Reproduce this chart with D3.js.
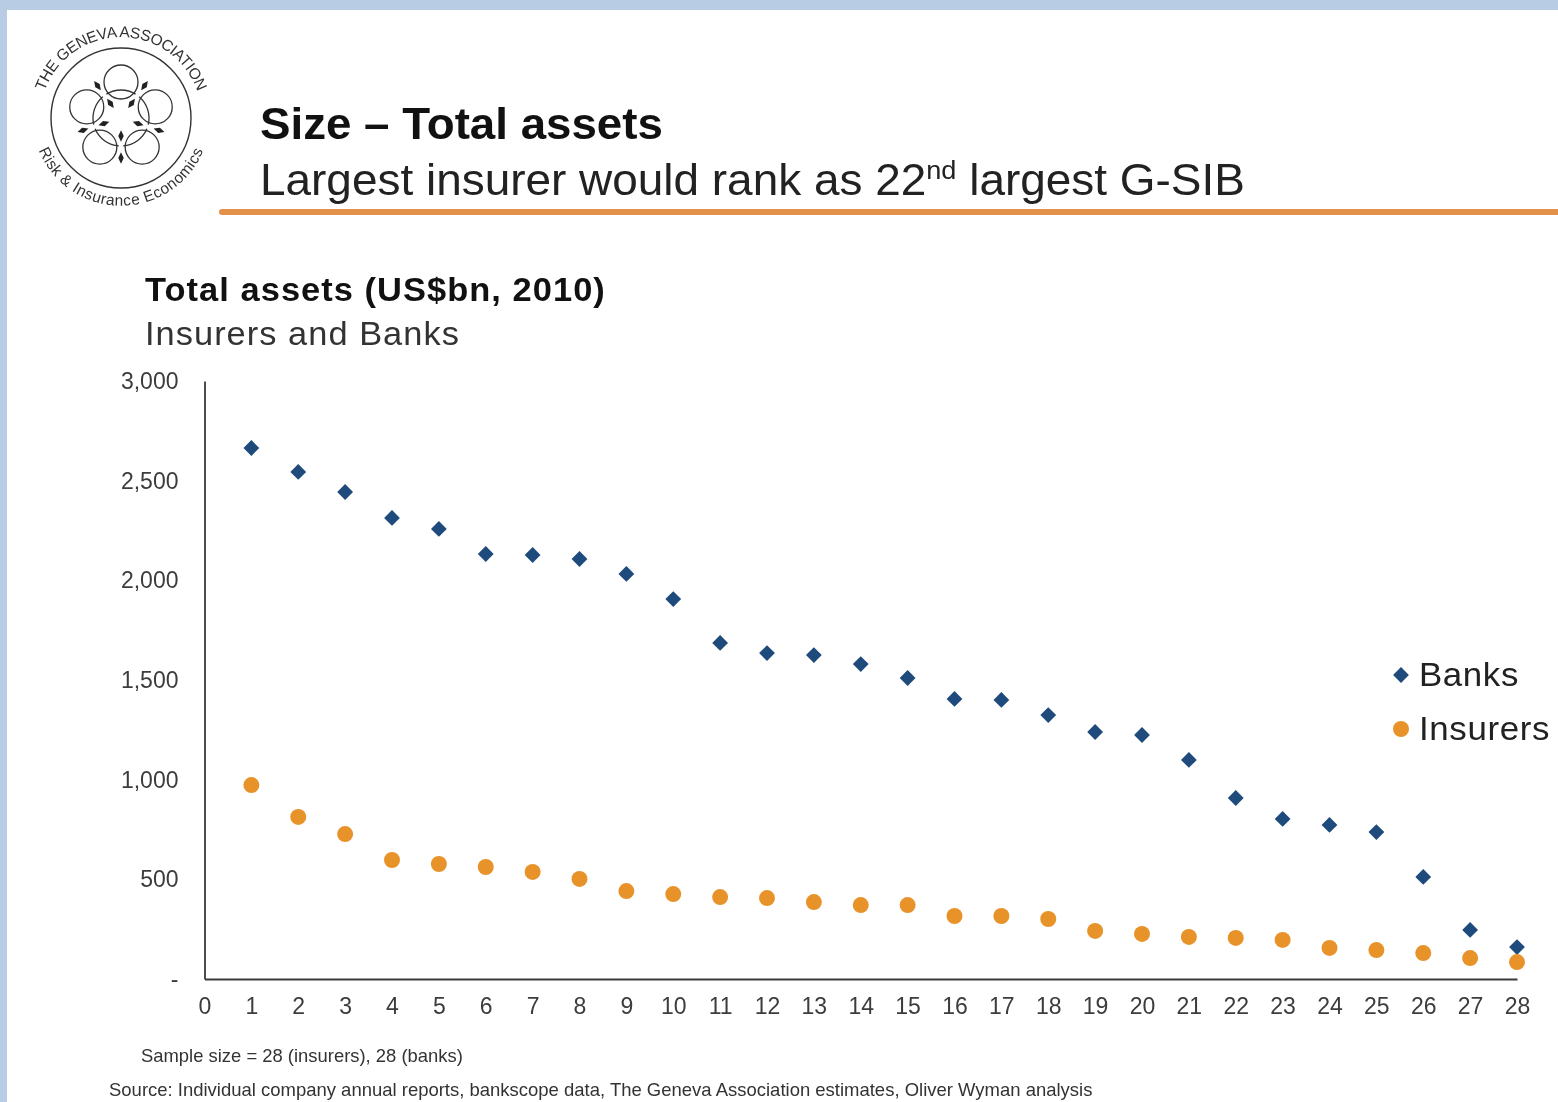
<!DOCTYPE html>
<html>
<head>
<meta charset="utf-8">
<script src="https://cdn.jsdelivr.net/npm/d3@7"></script>
<style>
  html, body { margin: 0; padding: 0; background: #fff; }
  svg { display: block; font-family: "Liberation Sans", Arial, sans-serif; filter: blur(0.5px); }
  .axis path { stroke: #3a3a3a; stroke-width: 1.8; }
  .axis line { display: none; }
  .axis text { font-size: 23px; fill: #3c3c3c; font-family: "Liberation Sans", Arial, sans-serif; }
</style>
</head>
<body>
<div id="chart"></div>
<script>
const ranks = d3.range(1, 29);
const banks = [2664, 2544, 2443, 2313, 2258, 2132, 2127, 2107, 2032, 1906, 1686, 1635, 1625, 1580,
  1510, 1405, 1400, 1324, 1239, 1224, 1099, 908, 803, 773, 737, 512, 246, 160];
const insurers = [973, 813, 727, 597, 577, 562, 537, 502, 441, 426, 411, 406, 386, 371,
  371, 316, 316, 301, 241, 226, 211, 206, 196, 156, 145, 130, 105, 85];
const yTicks = [0, 500, 1000, 1500, 2000, 2500, 3000];
const xTicks = d3.range(0, 29);
const legendItems = ["Banks", "Insurers"];

const width = 1558, height = 1102;
const blue = "#1f4a7c", orange = "#e8932a";

const svg = d3.select("#chart").append("svg")
  .attr("width", width)
  .attr("height", height);

// The slide text runs wider than Liberation Sans, so stretch it to the measured width
function placeText(sel, px, py, targetWidth) {
  const w = sel.node().getComputedTextLength();
  sel.attr("transform", `translate(${px},${py}) scale(${targetWidth / w},1)`);
  return sel;
}

// Slide frame
svg.append("rect").attr("width", width).attr("height", 10).attr("fill", "#b8cce4");
svg.append("rect").attr("width", 7).attr("height", height).attr("fill", "#b8cce4");

drawLogo();

// Slide heading
placeText(svg.append("text")
  .attr("font-size", 44).attr("font-weight", "bold").attr("fill", "#111")
  .text("Size – Total assets"), 260, 139, 403);
const sub = svg.append("text")
  .attr("font-size", 44).attr("fill", "#222");
sub.append("tspan").text("Largest insurer would rank as 22");
sub.append("tspan").attr("font-size", 26).attr("dy", -16).text("nd");
sub.append("tspan").attr("dy", 16).text(" largest G-SIB");
placeText(sub, 260, 195, 985);

svg.append("line")
  .attr("x1", 222).attr("x2", width).attr("y1", 212).attr("y2", 212)
  .attr("stroke", "#e2904a").attr("stroke-width", 6).attr("stroke-linecap", "round");

// Chart heading
placeText(svg.append("text")
  .attr("font-size", 33).attr("font-weight", "bold").attr("fill", "#111")
  .attr("letter-spacing", 1)
  .text("Total assets (US$bn, 2010)"), 145, 301, 461);
placeText(svg.append("text")
  .attr("font-size", 33).attr("fill", "#333")
  .attr("letter-spacing", 1)
  .text("Insurers and Banks"), 145, 345, 315);

// Scales
const x = d3.scaleLinear().domain([0, 28]).range([204.5, 1517]);
const y = d3.scaleLinear().domain([0, 3000]).range([979, 381]);

// Axes
svg.append("g").attr("class", "axis")
  .attr("transform", "translate(204.5,0)")
  .call(d3.axisLeft(y).tickValues(yTicks).tickSize(0).tickPadding(26)
    .tickFormat(d => d === 0 ? "-" : d3.format(",")(d)));

svg.append("g").attr("class", "axis")
  .attr("transform", "translate(0,979)")
  .call(d3.axisBottom(x).tickValues(xTicks).tickSize(0).tickPadding(19).tickFormat(d3.format("d")));

// Points
svg.append("g").selectAll("path")
  .data(banks)
  .join("path")
  .attr("d", d3.symbol(d3.symbolSquare, 125))
  .attr("transform", (d, i) => `translate(${x(ranks[i])},${y(d)}) rotate(45)`)
  .attr("fill", blue);

svg.append("g").selectAll("circle")
  .data(insurers)
  .join("circle")
  .attr("cx", (d, i) => x(ranks[i]))
  .attr("cy", d => y(d))
  .attr("r", 8)
  .attr("fill", orange);

// Legend
const legend = svg.append("g").selectAll("g")
  .data(legendItems)
  .join("g")
  .attr("transform", (d, i) => `translate(1401,${675 + i * 54})`);

legend.filter((d, i) => i === 0).append("path")
  .attr("d", d3.symbol(d3.symbolSquare, 125))
  .attr("transform", "rotate(45)")
  .attr("fill", blue);
legend.filter((d, i) => i === 1).append("circle")
  .attr("r", 8)
  .attr("fill", orange);
legend.append("text")
  .attr("font-size", 34).attr("fill", "#222")
  .attr("letter-spacing", 0.6)
  .text(d => d)
  .each(function (d, i) {
    placeText(d3.select(this), 18, 11, [100, 131][i]);
  });

// Notes
placeText(svg.append("text")
  .attr("font-size", 18).attr("fill", "#333")
  .text("Sample size = 28 (insurers), 28 (banks)"), 141, 1062, 322);
placeText(svg.append("text")
  .attr("font-size", 18).attr("fill", "#333")
  .text("Source: Individual company annual reports, bankscope data, The Geneva Association estimates, Oliver Wyman analysis"), 109, 1096, 984);

function drawLogo() {
  const cx = 121, cy = 118;
  const logo = svg.append("g").attr("transform", `translate(${cx},${cy})`)
    .attr("fill", "none").attr("stroke", "#333");

  logo.append("circle").attr("r", 70).attr("stroke-width", 1.4);

  // five linked rings
  const ringArc = d3.arc().innerRadius(28).outerRadius(28);
  [-90, -18, 54, 126, 198].forEach(a => {
    const r = a * Math.PI / 180;
    logo.append("circle")
      .attr("cx", 36 * Math.cos(r)).attr("cy", 36 * Math.sin(r))
      .attr("r", 17).attr("stroke-width", 1.3);
    // d3.arc measures angles clockwise from 12 o'clock
    const mid = (a + 90) * Math.PI / 180;
    logo.append("path")
      .attr("d", ringArc({ startAngle: mid - 0.55, endAngle: mid + 0.55 }))
      .attr("stroke-width", 1.3);
  });

  // small darts between the rings
  [-126, -54, 18, 90, 162].forEach(a => {
    const r = a * Math.PI / 180;
    [18, 40].forEach(d => {
      logo.append("path")
        .attr("d", d3.symbol(d3.symbolDiamond, 26))
        .attr("transform", `translate(${d * Math.cos(r)},${d * Math.sin(r)}) rotate(${a + 90}) scale(1,1.2)`)
        .attr("fill", "#222").attr("stroke", "none");
    });
  });

  const defs = svg.append("defs");
  defs.append("path").attr("id", "logoTop")
    .attr("d", "M -78 22 A 81 81 0 1 1 78 22");
  defs.append("path").attr("id", "logoBottom")
    .attr("d", "M -88 12 A 89 89 0 0 0 88 12");

  logo.append("text").attr("stroke", "none").attr("fill", "#333")
    .attr("font-size", 15.5).attr("letter-spacing", -0.3)
    .append("textPath").attr("href", "#logoTop").attr("startOffset", "50%")
    .attr("text-anchor", "middle")
    .text("THE GENEVA ASSOCIATION");
  logo.append("text").attr("stroke", "none").attr("fill", "#333")
    .attr("font-size", 15.5).attr("letter-spacing", 0.5)
    .append("textPath").attr("href", "#logoBottom").attr("startOffset", "50%")
    .attr("text-anchor", "middle")
    .text("Risk & Insurance Economics");
}
</script>
</body>
</html>
